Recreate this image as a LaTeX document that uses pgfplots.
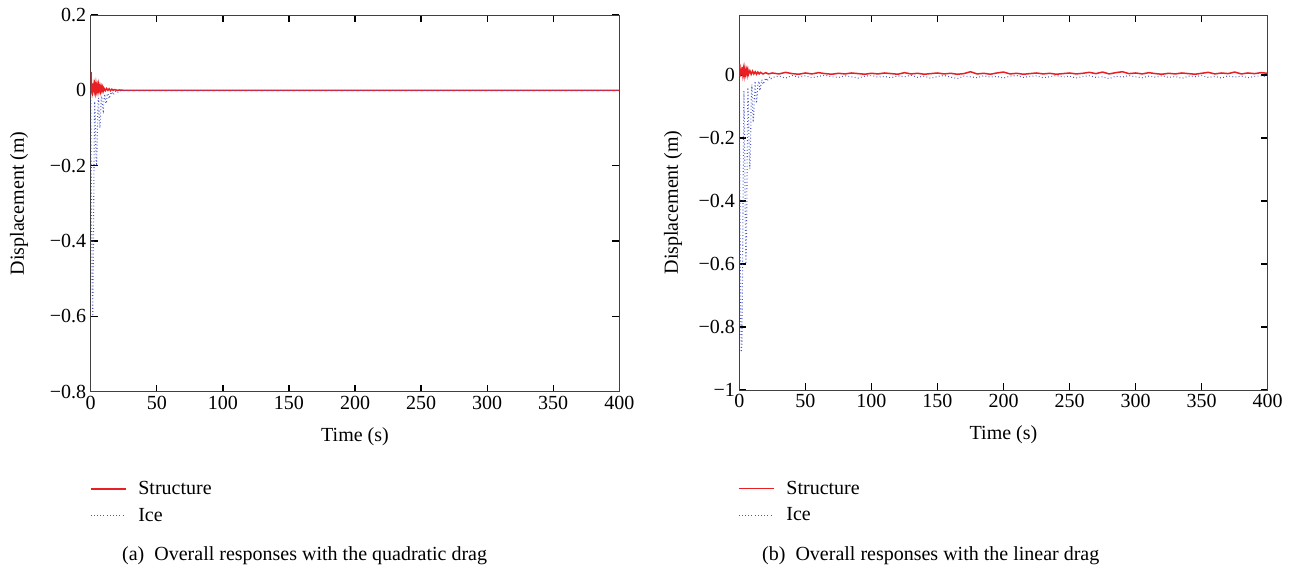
\documentclass[border=0pt]{standalone}
\usepackage{fontspec}
\setmainfont{Liberation Serif}
\usepackage{pgfplots}
\pgfplotsset{compat=1.18}
\definecolor{strc}{RGB}{232,32,36}
\definecolor{icec}{RGB}{70,84,200}
\pgfplotsset{
  myax/.style={
    scale only axis,
    anchor=south west,
    xmin=0, xmax=400,
    xtick={0,50,...,400},
    xticklabels={0,50,100,150,200,250,300,350,400},
    tick align=inside,
    major tick length=7bp,
    tick style={black, line width=1.3bp},
    axis line style={draw=black!75, line width=1bp},
    font=\fontsize{20bp}{24bp}\selectfont,
    every tick label/.append style={font=\fontsize{20bp}{24bp}\selectfont},
    xticklabel style={yshift=-1bp},
    yticklabel style={xshift=-1bp},
    xlabel={Time (s)},
    ylabel={Displacement (m)},
    every axis x label/.style={at={(axis description cs:0.5,-0.12)}, anchor=center},
    legend cell align=left,
    legend style={draw=none, fill=none, inner sep=0pt, row sep=8bp,
                  font=\fontsize{20bp}{24bp}\selectfont, anchor=north west,
                  /tikz/every odd column/.append style={column sep=10bp}},
    legend image code/.code={\draw[##1] (0bp,0bp) -- (35bp,0bp);},
  },
}
\begin{document}
\begin{tikzpicture}
\useasboundingbox (0,0) rectangle (1292bp,-571bp);
\begin{axis}[myax,
  at={(90.7bp,-391.7bp)}, width=528.6bp, height=376.7bp,
  ymin=-0.8, ymax=0.2,
  ytick={-0.8,-0.6,-0.4,-0.2,0,0.2},
  yticklabels={−0.8,−0.6,−0.4,−0.2,0,0.2},
  every axis y label/.style={at={(axis description cs:-0.1357,0.5)}, rotate=90, anchor=center},
  legend style={at={(axis description cs:-0.002,-0.233)}},
]
\addplot[color=strc, line width=1.5bp] coordinates {(0,0) (0.3,0.048) (0.6,0.0) (0.9,-0.005) (1.2,0.01) (1.5,0.018) (1.8,0.002) (2.1,0.008) (2.4,0.015) (2.7,0.003) (3,0.012) (3.5,-0.003) (4,0.016) (4.5,0.0) (5,0.012) (5.5,-0.002) (6,0.014) (6.5,0.001) (7,0.01) (7.5,-0.002) (8,0.009) (8.5,0.0) (9,0.008) (9.5,-0.001) (10,0.006) (11,-0.001) (12,0.005) (13,0) (14,0.004) (15,-0.001) (16,0.003) (17,0) (18,0.002) (20,0) (22,0.001) (25,0) (400,0)};
\addlegendentry{Structure}
\addplot[color=icec, line width=1.1bp, dash pattern=on 0.8bp off 2.4bp] coordinates {(0,0) (0.5,-0.25) (1,-0.5) (1.5,-0.6) (2,-0.45) (2.5,-0.2) (3,-0.03) (3.5,-0.08) (4,-0.18) (4.5,-0.2) (5,-0.12) (5.5,-0.03) (6,-0.02) (6.5,-0.08) (7,-0.1) (7.5,-0.06) (8,-0.015) (8.5,-0.02) (9,-0.05) (9.5,-0.055) (10,-0.03) (10.5,-0.01) (11,-0.02) (11.5,-0.035) (12,-0.03) (12.5,-0.012) (13,-0.008) (14,-0.022) (15,-0.01) (16,-0.004) (17,-0.012) (18,-0.006) (19,-0.002) (20,-0.006) (22,-0.002) (25,0) (400,0)};
\addlegendentry{Ice}
\end{axis}
\begin{axis}[myax,
  at={(739.3bp,-390bp)}, width=528.4bp, height=375bp,
  ymin=-1, ymax=0.19,
  ytick={-1,-0.8,-0.6,-0.4,-0.2,0},
  yticklabels={−1,−0.8,−0.6,−0.4,−0.2,0},
  every axis y label/.style={at={(axis description cs:-0.1255,0.5)}, rotate=90, anchor=center},
  legend style={at={(axis description cs:-0.003,-0.237)}},
]
\addplot[color=strc, line width=1.5bp] coordinates {(0,0) (0.3,0.035) (0.7,-0.005) (1.2,0.02) (1.7,0.0) (2.2,0.025) (2.7,0.002) (3.2,0.018) (3.7,0.0) (4.2,0.02) (4.8,0.002) (5.5,0.016) (6,0.001) (6.5,0.015) (7,0.002) (8,0.013) (9,0.002) (10,0.012) (11,0.003) (12,0.01) (13,0.002) (14,0.009) (15,0.003) (16,0.008) (18,0.003) (20,0.007) (22,0.003) (25,0.006) (30,0.003) (35,0.008) (40,0.004) (45,0.002) (50,0.006) (55,0.003) (60,0.007) (65,0.004) (70,0.002) (75,0.005) (80,0.003) (85,0.006) (90,0.004) (95,0.002) (100,0.005) (105,0.003) (110,0.006) (115,0.004) (120,0.002) (125,0.007) (130,0.003) (135,0.005) (140,0.002) (145,0.004) (150,0.006) (155,0.003) (160,0.005) (165,0.002) (170,0.004) (175,0.010) (180,0.003) (185,0.005) (190,0.002) (195,0.006) (200,0.009) (205,0.003) (210,0.005) (215,0.002) (220,0.004) (225,0.006) (230,0.003) (235,0.005) (240,0.002) (245,0.004) (250,0.006) (255,0.003) (260,0.005) (265,0.008) (270,0.004) (275,0.009) (280,0.003) (285,0.007) (290,0.010) (295,0.004) (300,0.006) (305,0.003) (310,0.007) (315,0.004) (320,0.002) (325,0.005) (330,0.003) (335,0.006) (340,0.004) (345,0.002) (350,0.005) (355,0.008) (360,0.003) (365,0.006) (370,0.004) (375,0.009) (380,0.003) (385,0.006) (390,0.004) (395,0.007) (400,0.005)};
\addlegendentry{Structure}
\addplot[color=icec, line width=1.1bp, dash pattern=on 0.8bp off 2.4bp] coordinates {(0,0) (0.5,-0.4) (1,-0.75) (1.5,-0.88) (2,-0.85) (2.5,-0.6) (3,-0.3) (3.5,-0.05) (4,-0.2) (4.5,-0.45) (5,-0.6) (5.5,-0.5) (6,-0.25) (6.5,-0.04) (7,-0.12) (7.5,-0.25) (8,-0.3) (8.5,-0.22) (9,-0.08) (9.5,-0.03) (10,-0.1) (10.5,-0.15) (11,-0.12) (11.5,-0.05) (12,-0.02) (12.5,-0.06) (13,-0.09) (13.5,-0.07) (14,-0.03) (15,-0.02) (15.5,-0.05) (16,-0.04) (17,-0.015) (18,-0.03) (19,-0.02) (20,-0.01) (21,-0.02) (22,-0.012) (23,-0.006) (24,-0.012) (25,-0.008) (30,-0.004) (35,-0.010) (40,-0.002) (45,-0.007) (50,-0.003) (55,-0.009) (60,-0.005) (65,-0.001) (70,-0.006) (75,-0.008) (80,-0.003) (85,-0.006) (90,-0.010) (95,-0.004) (100,-0.002) (105,-0.007) (110,-0.005) (115,-0.009) (120,-0.003) (125,-0.006) (130,-0.001) (135,-0.008) (140,-0.004) (145,-0.011) (150,-0.005) (155,-0.002) (160,-0.007) (165,-0.012) (170,-0.004) (175,-0.006) (180,-0.009) (185,-0.003) (190,-0.007) (195,-0.005) (200,-0.010) (205,-0.004) (210,-0.002) (215,-0.008) (220,-0.005) (225,-0.003) (230,-0.009) (235,-0.006) (240,-0.002) (245,-0.007) (250,-0.004) (255,-0.010) (260,-0.005) (265,-0.003) (270,-0.008) (275,-0.006) (280,-0.012) (285,-0.004) (290,-0.007) (295,-0.002) (300,-0.006) (305,-0.009) (310,-0.004) (315,-0.007) (320,-0.003) (325,-0.008) (330,-0.005) (335,-0.011) (340,-0.004) (345,-0.006) (350,-0.002) (355,-0.008) (360,-0.005) (365,-0.010) (370,-0.003) (375,-0.007) (380,-0.004) (385,-0.009) (390,-0.005) (395,-0.003) (400,-0.006)};
\addlegendentry{Ice}
\end{axis}
\node[anchor=west, font=\fontsize{20bp}{24bp}\selectfont, inner sep=0pt] at (122bp,-556bp) {(a)\hspace{0.5em}Overall responses with the quadratic drag};
\node[anchor=west, font=\fontsize{20bp}{24bp}\selectfont, inner sep=0pt] at (762bp,-556bp) {(b)\hspace{0.5em}Overall responses with the linear drag};
\end{tikzpicture}
\end{document}
